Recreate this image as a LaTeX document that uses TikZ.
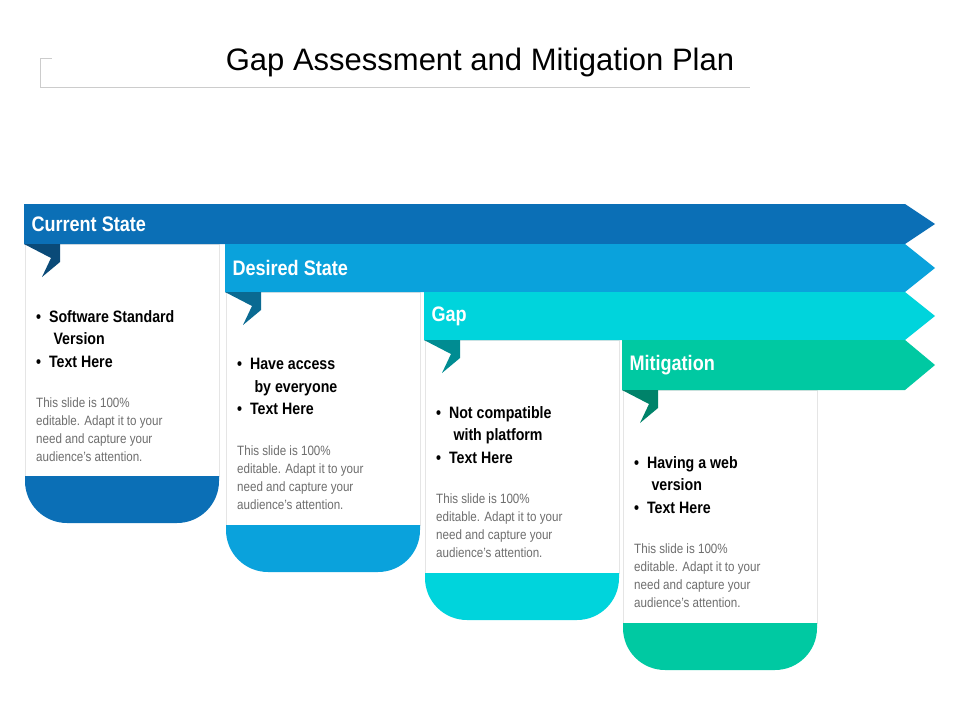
\documentclass[tikz,border=0pt]{standalone}
\usepackage{fontspec}
\setmainfont{Liberation Sans}
\newfontfamily\narrowfont[FakeStretch=0.86]{Liberation Sans}
\usetikzlibrary{positioning,calc}
\definecolor{csblue}{HTML}{0B6FB6}
\definecolor{csdark}{HTML}{0A4A78}
\definecolor{dsblue}{HTML}{0AA2DC}
\definecolor{dsdark}{HTML}{0A6A92}
\definecolor{gpcyan}{HTML}{00D4DC}
\definecolor{gpdark}{HTML}{008C92}
\definecolor{mtgreen}{HTML}{00C9A2}
\definecolor{mtdark}{HTML}{00836A}
\definecolor{paragray}{HTML}{6E6E6E}
\tikzset{
  ribbon title/.style = {anchor=west, text=white, font=\narrowfont\bfseries\fontsize{21}{24}\selectfont},
  card frame/.style   = {draw=black!10, fill=white, line width=0.6pt},
  bullet text/.style  = {anchor=north west, align=left, inner sep=0pt, font=\narrowfont\bfseries\fontsize{16.5}{22.5}\selectfont},
  para text/.style    = {anchor=north west, align=left, inner sep=0pt, text=paragray, font=\narrowfont\fontsize{13.5}{18}\selectfont}
}
\begin{document}
\begin{tikzpicture}[x=1pt, y=-1pt]
  \useasboundingbox (0,0) rectangle (960,720);
  % title
  \node (title) at (480,62) {\fontsize{31}{36}\selectfont Gap Assessment and Mitigation Plan};
  \draw[black!20, line width=0.6pt] (40,58) -- (52,58) (40,58) -- (40,88) (40,87) -- (750,87);
  % stages
  \foreach \x/\yt/\yb/\ybot/\col/\dk/\name/\bul/\para in {
      24/204/244/523/csblue/csdark/Current State/{\textbullet\ \ Software Standard\\\hspace{1.05em}Version\\\textbullet\ \ Text Here},
      225/244/292/572/dsblue/dsdark/Desired State/{\textbullet\ \ Have access\\\hspace{1.05em}by everyone\\\textbullet\ \ Text Here},
      424/292/340/620/gpcyan/gpdark/Gap/{\textbullet\ \ Not compatible\\\hspace{1.05em}with platform\\\textbullet\ \ Text Here},
      622/340/390/670/mtgreen/mtdark/Mitigation/{\textbullet\ \ Having a web\\\hspace{1.05em}version\\\textbullet\ \ Text Here}}{
    % card body
    \draw[card frame] (\x+1,\yb) rectangle (\x+195,\ybot-47);
    \fill[\col] (\x+1,\ybot-47) -- (\x+195,\ybot-47) [rounded corners=42pt] -- (\x+195,\ybot) -- (\x+1,\ybot) [sharp corners] -- cycle;
    % ribbon
    \fill[\col] (\x,\yt) -- (905,\yt) -- (935,{(\yt+\yb)/2}) -- (905,\yb) -- (\x,\yb) -- cycle;
    \fill[\dk] (\x,\yb) -- (\x+36,\yb) -- (\x+36,\yb+18) -- (\x+18,\yb+33) -- (\x+27,\yb+14) -- cycle;
    \node[ribbon title] (title-\x) at (\x+4,{(\yt+\yb)/2}) {\name};
    \node[bullet text] (bul-\x) at (\x+12,\yb+66) {\bul};
    \node[para text] (para-\x) at (\x+12,\yb+154) {This slide is 100\%\\editable. Adapt it to your\\need and capture your\\audience’s attention.};
  }
\end{tikzpicture}
\end{document}
